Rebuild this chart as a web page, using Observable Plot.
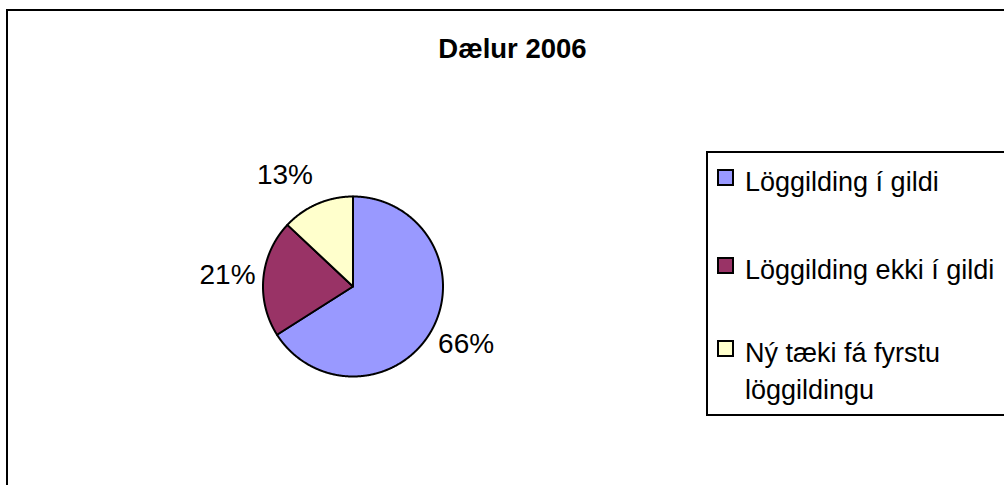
<!DOCTYPE html>
<html><head><meta charset="utf-8">
<script src="https://cdn.jsdelivr.net/npm/d3@7"></script>
<script src="https://cdn.jsdelivr.net/npm/@observablehq/plot@0.6"></script>
<style>
html,body{margin:0;padding:0;background:#fff;}
#wrap{position:relative;width:1004px;height:485px;overflow:hidden;background:#fff;font-family:"Liberation Sans",Arial,sans-serif;color:#000}
#frame{position:absolute;left:6px;top:9px;width:1100px;height:600px;border:2px solid #000;box-sizing:border-box}
#chart{position:absolute;left:0;top:0;width:1004px;height:485px}
#title{position:absolute;left:0;width:1025px;top:33px;text-align:center;font-weight:bold;font-size:27.5px;line-height:32px;margin:0}
#legend{position:absolute;left:706px;top:151px;width:400px;height:265px;border:2px solid #000;box-sizing:border-box;background:#fff}
.item{position:absolute;left:9px;display:flex;align-items:flex-start}
.sw{width:17px;height:17px;border:2px solid #000;box-sizing:border-box;flex:none}
.lt{margin-left:11px;font-size:27px;line-height:37px;width:258px}
</style>
</head><body>
<div id="wrap">
  <div id="frame"></div>
  <div id="chart"></div>
  <div id="title"></div>
  <div id="legend"></div>
</div>
<script>
const title = "Dælur 2006";
const categories = ["Löggilding í gildi", "Löggilding ekki í gildi", "Ný tæki fá fyrstu löggildingu"];
const values = [66, 21, 13];
const labels = ["66%", "21%", "13%"];
const colors = ["#9999FF", "#993366", "#FFFFCC"];

const data = categories.map((c, i) => ({category: c, value: values[i], label: labels[i]}));
const arcs = d3.pie().sort(null).value(d => d.value)(data);

// slice outlines (geometry from the pie angles)
const pts = [];
arcs.forEach(a => {
  const key = a.data.category;
  pts.push({key, x: 0, y: 0});
  const n = Math.max(4, Math.ceil((a.endAngle - a.startAngle) / 0.005));
  for (let i = 0; i <= n; i++) {
    const t = a.startAngle + (a.endAngle - a.startAngle) * i / n;
    pts.push({key, x: Math.sin(t), y: Math.cos(t)});
  }
});

// label anchor points along the middle angle of each slice
const nudge = {"13%": [-0.2, -0.05], "66%": [0.03, 0.04]};
const lab = arcs.map(a => {
  const m = (a.startAngle + a.endAngle) / 2;
  const k = 1.4;
  const nd = nudge[a.data.label] || [0, 0];
  return {text: a.data.label, x: Math.sin(m) * k + nd[0], y: Math.cos(m) * k + nd[1]};
});

const cx = 352.5, cy = 286, R = 90;
const chart = Plot.plot({
  width: 1004, height: 485, margin: 0,
  style: {background: "none", overflow: "visible", fontFamily: "Liberation Sans, Arial, sans-serif"},
  x: {domain: [-1, 1], range: [cx - R, cx + R], axis: null},
  y: {domain: [-1, 1], range: [cy + R, cy - R], axis: null},
  color: {type: "ordinal", domain: categories, range: colors},
  marks: [
    Plot.line(pts, {x: "x", y: "y", z: "key", fill: "key", stroke: "#000", strokeWidth: 2, curve: "linear-closed", strokeLinejoin: "round"}),
    Plot.text(lab, {x: "x", y: "y", text: "text", fontSize: 28, fill: "#000", fontFamily: "Liberation Sans, Arial, sans-serif"})
  ]
});
document.getElementById("chart").appendChild(chart);
document.getElementById("title").textContent = title;

// legend
const legend = document.getElementById("legend");
const tops = [10.5, 98.5, 181.5];
categories.forEach((c, i) => {
  const it = document.createElement("div");
  it.className = "item";
  it.style.top = tops[i] + "px";
  const sw = document.createElement("div");
  sw.className = "sw";
  sw.style.background = colors[i];
  sw.style.marginTop = "5.5px";
  const t = document.createElement("div");
  t.className = "lt";
  t.textContent = c;
  if (i < 2) t.style.whiteSpace = "nowrap";
  it.appendChild(sw); it.appendChild(t);
  legend.appendChild(it);
});
</script>
</body></html>
